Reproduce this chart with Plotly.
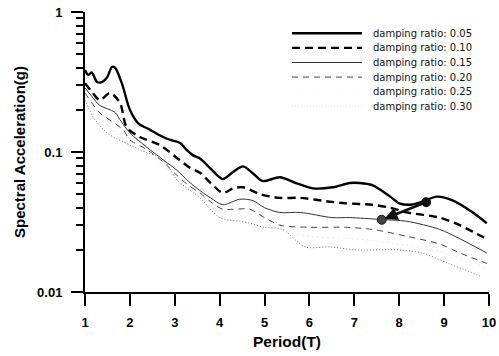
import numpy as np
import plotly.graph_objects as go

# ---- data ----
labels = ["damping ratio: 0.05", "damping ratio: 0.10", "damping ratio: 0.15",
          "damping ratio: 0.20", "damping ratio: 0.25", "damping ratio: 0.30"]

T_005 = [1.0, 1.07, 1.15, 1.27, 1.38, 1.49, 1.6, 1.67, 1.82, 2.0, 2.18, 2.45, 2.74, 2.9, 3.12,
         3.27, 3.4, 3.56, 3.8, 4.07, 4.3, 4.52, 4.75, 4.96, 5.34, 5.7, 6.08, 6.52, 6.9, 7.12,
         7.4, 7.57, 7.8, 8.0, 8.25, 8.5, 8.84, 9.2, 9.64, 9.95]
Sa_005 = [0.385, 0.355, 0.37, 0.316, 0.316, 0.34, 0.405, 0.40, 0.31, 0.2, 0.161, 0.144, 0.128,
          0.122, 0.116, 0.103, 0.095, 0.09, 0.076, 0.064, 0.072, 0.079, 0.07, 0.062, 0.066, 0.06,
          0.055, 0.056, 0.06, 0.06, 0.058, 0.054, 0.048, 0.043, 0.042, 0.044, 0.048, 0.045,
          0.037, 0.031]

T_010 = [1.0, 1.15, 1.33, 1.56, 1.78, 1.93, 2.22, 2.67, 3.1, 3.34, 3.56, 3.8, 4.07, 4.3, 4.52,
         4.9, 5.34, 5.8, 6.5, 6.8, 7.4, 7.8, 8.17, 8.9, 9.35, 9.73, 9.95]
Sa_010 = [0.31, 0.27, 0.235, 0.264, 0.224, 0.15, 0.128, 0.112, 0.088, 0.077, 0.071, 0.06, 0.051,
          0.055, 0.056, 0.05, 0.047, 0.047, 0.044, 0.043, 0.042, 0.04, 0.037, 0.034, 0.030,
          0.026, 0.024]

T_015 = [1.0, 1.15, 1.33, 1.56, 1.68, 1.78, 2.0, 2.38, 2.74, 3.05, 3.3, 3.56, 3.8, 4.07, 4.45,
         4.74, 5.0, 5.34, 5.8, 6.5, 6.9, 7.57, 8.17, 8.9, 9.35, 9.95]
Sa_015 = [0.287, 0.25, 0.215, 0.2, 0.19, 0.17, 0.137, 0.108, 0.088, 0.074, 0.062, 0.053, 0.047,
          0.042, 0.046, 0.045, 0.04, 0.037, 0.037, 0.034, 0.034, 0.033, 0.032, 0.028, 0.024,
          0.019]

T_020 = [1.0, 1.33, 1.62, 1.85, 2.0, 2.38, 2.74, 3.05, 3.3, 3.56, 3.8, 4.07, 4.3, 4.67, 5.0,
         5.34, 6.0, 6.8, 7.4, 8.17, 8.9, 9.35, 9.95]
Sa_020 = [0.264, 0.19, 0.164, 0.144, 0.122, 0.104, 0.085, 0.068, 0.058, 0.051, 0.044, 0.039,
          0.039, 0.039, 0.034, 0.030, 0.029, 0.029, 0.028, 0.025, 0.022, 0.019, 0.016]

T_025 = [1.0, 1.5, 2.0, 2.5, 3.0, 3.5, 4.0, 4.5, 5.0, 5.5, 6.0, 7.0, 8.0, 9.0, 9.9]
Sa_025 = [0.25, 0.155, 0.117, 0.094, 0.068, 0.05, 0.037, 0.035, 0.031, 0.027, 0.025, 0.024,
          0.022, 0.019, 0.015]

T_030 = [1.0, 1.18, 1.49, 2.0, 2.22, 2.74, 2.9, 3.05, 3.56, 4.0, 4.45, 4.67, 5.0, 5.4, 5.9,
         6.46, 7.0, 8.0, 8.5, 9.1, 9.8]
Sa_030 = [0.235, 0.178, 0.137, 0.112, 0.104, 0.088, 0.075, 0.063, 0.047, 0.034, 0.032, 0.031,
          0.029, 0.028, 0.021, 0.021, 0.020, 0.020, 0.019, 0.016, 0.013]

# arrow annotation (start, end) in data units
arrow_T = [8.6, 7.61]
arrow_Sa = [0.0438, 0.0328]

x_ticks = [1, 2, 3, 4, 5, 6, 7, 8, 9, 10]
y_ticks = [0.01, 0.1, 1]
y_ticklabels = ["0.01", "0.1", "1"]

series = [(T_005, Sa_005), (T_010, Sa_010), (T_015, Sa_015),
          (T_020, Sa_020), (T_025, Sa_025), (T_030, Sa_030)]
styles = [
    dict(color="#000000", width=2.4, dash="solid"),
    dict(color="#000000", width=2.4, dash="8px,5px"),
    dict(color="#333333", width=1.0, dash="solid"),
    dict(color="#444444", width=1.0, dash="6px,5px"),
    dict(color="#ececec", width=1.0, dash="2px,3px"),
    dict(color="#777777", width=1.0, dash="1px,2px"),
]
legend_sample_colors = ["#000000", "#000000", "#333333", "#444444", "#fafafa", "#e0e0e0"]

FONT = "Arial, Liberation Sans, sans-serif"
LEG_FONT = "DejaVu Sans, Verdana, sans-serif"
W, H = 499, 356
ML, MR, MT, MB = 85, 10, 12, 64
PW, PH = W - ML - MR, H - MT - MB


def px_x(p):
    return (p - ML) / PW


def px_y(p):
    return 1 - (p - MT) / PH


fig = go.Figure()
for (tx, sy), lab, st in zip(series, labels, styles):
    fig.add_trace(go.Scatter(x=tx, y=sy, mode="lines", name=lab, showlegend=False,
                             line=dict(shape="spline", smoothing=0.8, **st)))

# arrow endpoints markers
fig.add_trace(go.Scatter(x=arrow_T, y=arrow_Sa, mode="markers", showlegend=False,
                         marker=dict(size=9, color=["#111111", "#444444"],
                                     line=dict(color="#111111", width=1))))
fig.add_annotation(x=arrow_T[1], y=np.log10(arrow_Sa[1]),
                   ax=arrow_T[0], ay=np.log10(arrow_Sa[0]),
                   xref="x", yref="y", axref="x", ayref="y",
                   text="", showarrow=True, arrowhead=2, arrowsize=1.0,
                   arrowwidth=2.6, arrowcolor="#111111", standoff=3)

# manual legend (layout only)
row0, row_gap = 33.3, 14.6
for i, (lab, st) in enumerate(zip(labels, styles)):
    yy = px_y(row0 + i * row_gap)
    fig.add_shape(type="line", xref="paper", yref="paper",
                  x0=px_x(292), x1=px_x(362), y0=yy, y1=yy,
                  line=dict(color=legend_sample_colors[i], width=st["width"], dash=st["dash"]))
    fig.add_annotation(xref="paper", yref="paper", x=px_x(371), y=yy,
                       xanchor="left", yanchor="middle", text=lab, showarrow=False,
                       font=dict(size=10, family=LEG_FONT, color="#111111"))

fig.update_layout(
    width=W, height=H,
    margin=dict(l=ML, r=MR, t=MT, b=MB, autoexpand=False),
    paper_bgcolor="white", plot_bgcolor="white",
    font=dict(family=FONT, color="#000000"),
    showlegend=False,
    xaxis=dict(range=[1, 10], tickvals=x_ticks, ticktext=[str(v) for v in x_ticks],
               automargin=False,
               showgrid=False, zeroline=False, showline=True, linecolor="black",
               linewidth=2, ticks="outside", ticklen=12, tickwidth=2, tickcolor="black",
               ticklabelstandoff=5,
               tickfont=dict(size=13, family=FONT, color="black", weight="bold"),
               title=dict(text="<b>Period(T)</b>", font=dict(size=15.5, family=FONT),
                          standoff=8)),
    yaxis=dict(type="log", range=[-2, 0], tickvals=y_ticks, ticktext=y_ticklabels,
               automargin=False,
               showgrid=False, zeroline=False, showline=True, linecolor="black",
               linewidth=2, ticks="outside", ticklen=12, tickwidth=2, tickcolor="black",
               ticklabelstandoff=6,
               tickfont=dict(size=13, family=FONT, color="black", weight="bold"),
               minor=dict(tickvals=[0.02, 0.03, 0.04, 0.05, 0.06, 0.07, 0.08, 0.09,
                                    0.2, 0.3, 0.4, 0.5, 0.6, 0.7, 0.8, 0.9],
                          ticks="outside", ticklen=7, tickwidth=1.5, tickcolor="black",
                          showgrid=False),
               title=dict(text="<b>Spectral Acceleration(g)</b>",
                          font=dict(size=15, family=FONT), standoff=8)),
)

fig.write_html("out.html")
